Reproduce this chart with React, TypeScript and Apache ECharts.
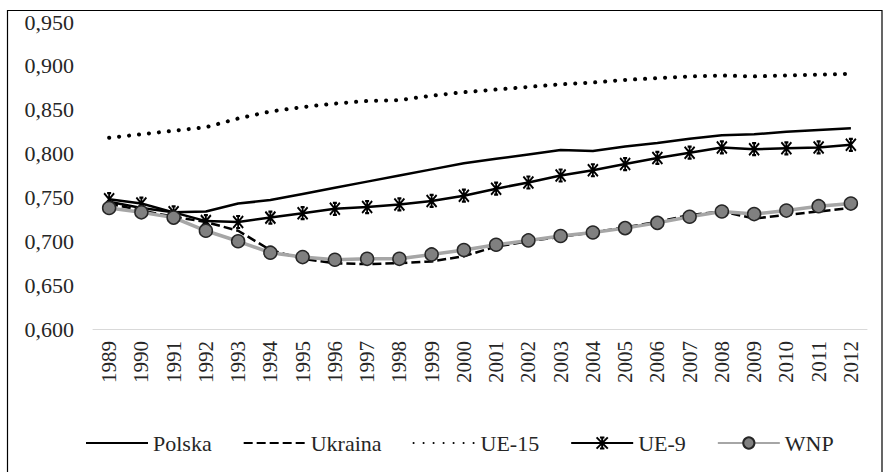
import React, { useEffect, useRef } from "react";
import * as echarts from "echarts";

const years = ["1989","1990","1991","1992","1993","1994","1995","1996","1997","1998","1999","2000","2001","2002","2003","2004","2005","2006","2007","2008","2009","2010","2011","2012"];
const polska = [0.745,0.738,0.733,0.734,0.743,0.747,0.754,0.761,0.768,0.775,0.782,0.789,0.794,0.799,0.804,0.803,0.808,0.812,0.817,0.821,0.822,0.825,0.827,0.829];
const ukraina = [0.743,0.735,0.728,0.722,0.712,0.690,0.680,0.675,0.674,0.675,0.677,0.683,0.694,0.700,0.705,0.710,0.716,0.722,0.730,0.734,0.726,0.730,0.734,0.738];
const ue15 = [0.818,0.822,0.826,0.830,0.840,0.848,0.853,0.857,0.860,0.861,0.866,0.870,0.873,0.876,0.879,0.881,0.884,0.886,0.888,0.889,0.888,0.889,0.890,0.891];
const ue9 = [0.748,0.743,0.733,0.723,0.722,0.727,0.732,0.737,0.739,0.742,0.746,0.752,0.760,0.767,0.775,0.781,0.788,0.795,0.801,0.807,0.805,0.806,0.807,0.810];
const wnp = [0.738,0.733,0.727,0.712,0.700,0.687,0.682,0.679,0.680,0.680,0.685,0.690,0.696,0.701,0.706,0.710,0.715,0.721,0.728,0.734,0.731,0.735,0.740,0.743];
const yTicks = { min: 0.6, max: 0.95, interval: 0.05 };

const FONT = "Liberation Serif";
const STAR = "path://M0,0L10,12M10,0L0,12M5,0L5,12M3,0L7,0M3,12L7,12";

export default function App() {
  const ref = useRef<HTMLDivElement>(null);
  useEffect(() => {
    if (!ref.current) return;
    const chart = echarts.init(ref.current, null, { renderer: "svg" });
    chart.setOption({
      animation: false,
      backgroundColor: "#fff",
      textStyle: { fontFamily: FONT },
      graphic: [
        {
          type: "rect",
          shape: { x: 7.5, y: 10.5, width: 874.5, height: 470 },
          style: { fill: "none", stroke: "#000", lineWidth: 1.2 },
          silent: true,
        },
      ],
      grid: { left: 93, right: 17, top: 22, bottom: 143, containLabel: false },
      legend: {
        left: 80,
        top: 427,
        itemWidth: 62,
        itemHeight: 14,
        itemGap: 31,
        textStyle: { fontFamily: FONT, fontSize: 22, color: "#262626" },
        data: [
          { name: "Polska", itemStyle: { opacity: 0 } },
          { name: "Ukraina", itemStyle: { opacity: 0 } },
          { name: "UE-15", itemStyle: { opacity: 0 } },
          { name: "UE-9" },
          { name: "WNP" },
        ],
      },
      xAxis: {
        type: "category",
        data: years,
        boundaryGap: true,
        axisLine: { lineStyle: { color: "#d9d9d9", width: 1 } },
        axisTick: { show: false },
        axisLabel: {
          rotate: 90,
          margin: 12,
          interval: 0,
          fontFamily: FONT,
          fontSize: 21,
          color: "#262626",
        },
      },
      yAxis: {
        type: "value",
        min: yTicks.min,
        max: yTicks.max,
        interval: yTicks.interval,
        axisLine: { show: false },
        axisTick: { show: false },
        splitLine: { show: false },
        axisLabel: {
          margin: 19,
          fontFamily: FONT,
          fontSize: 22,
          color: "#262626",
          formatter: (v: number) => v.toFixed(3).replace(".", ","),
        },
      },
      series: [
        {
          name: "Polska",
          type: "line",
          data: polska,
          symbol: "none",
          lineStyle: { color: "#000", width: 2.5 },
          itemStyle: { color: "#000" },
        },
        {
          name: "Ukraina",
          type: "line",
          data: ukraina,
          symbol: "none",
          lineStyle: { color: "#000", width: 2.5, type: [9, 4] },
          itemStyle: { color: "#000" },
        },
        {
          name: "UE-15",
          type: "line",
          data: ue15,
          symbol: "none",
          lineStyle: { color: "#000", width: 4, type: [0.1, 9.9], cap: "round" },
          itemStyle: { color: "#000" },
        },
        {
          name: "UE-9",
          type: "line",
          data: ue9,
          symbol: STAR,
          symbolSize: [10, 12],
          lineStyle: { color: "#000", width: 2.5 },
          itemStyle: { color: "#000", borderColor: "#000", borderWidth: 2 },
        },
        {
          name: "WNP",
          type: "line",
          data: wnp,
          symbol: "circle",
          symbolSize: 13,
          lineStyle: { color: "#a6a6a6", width: 3.5 },
          itemStyle: { color: "#808080", borderColor: "#262626", borderWidth: 1.5 },
        },
      ],
    });
    return () => chart.dispose();
  }, []);
  return (
    <div
      ref={ref}
      style={{ position: "absolute", left: 0, top: 0, width: 884, height: 472 }}
    />
  );
}
